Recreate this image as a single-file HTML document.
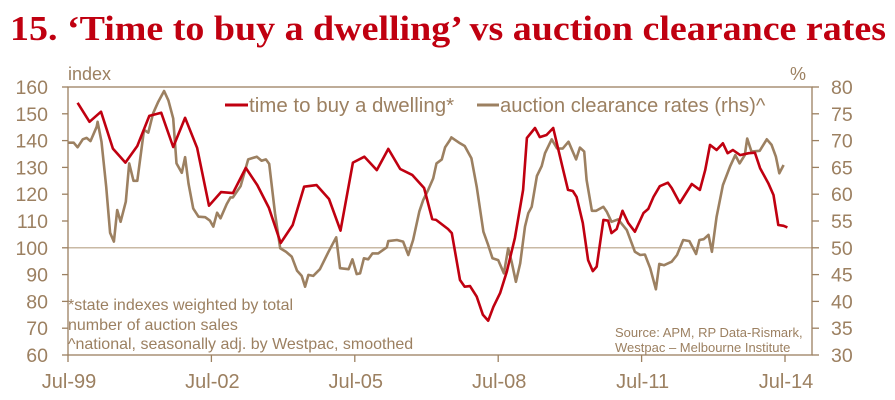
<!DOCTYPE html>
<html><head><meta charset="utf-8"><style>
html,body{margin:0;padding:0;background:#fff;}
svg{display:block;font-family:"Liberation Sans",sans-serif;}
</style></head><body>
<svg id="chart" width="895" height="400" viewBox="0 0 895 400">
<text x="10" y="40" font-family="Liberation Serif, serif" font-weight="bold" font-size="35" fill="#c00010" textLength="876" lengthAdjust="spacingAndGlyphs">15. ‘Time to buy a dwelling’ vs auction clearance rates</text>
<g id="axes"></g>
<g id="series"></g>
<g>
<line x1="225" y1="105" x2="248" y2="105" stroke="#c00010" stroke-width="3"/>
<text x="249" y="112" font-size="20.5" fill="#9c8061">time to buy a dwelling*</text>
<line x1="477" y1="105" x2="499" y2="105" stroke="#9c8061" stroke-width="3"/>
<text x="500" y="112" font-size="20.2" fill="#9c8061">auction clearance rates (rhs)^</text>
</g>
<g font-size="16" fill="#9c8061">
<text x="68" y="310">*state indexes weighted by total</text>
<text x="68" y="330">number of auction sales</text>
<text x="68" y="349">^national, seasonally adj. by Westpac, smoothed</text>
</g>
<g font-size="13" fill="#9c8061">
<text x="615" y="337">Source: APM, RP Data-Rismark,</text>
<text x="615" y="352">Westpac – Melbourne Institute</text>
</g>
</svg>
<script>
// dates as years since Jul-1999
const ttbT=[0.2,0.45,0.69,0.94,1.2,1.45,1.7,1.95,2.2,2.45,2.7,2.95,3.2,3.45,3.72,3.96,4.2,4.45,4.7,4.94,5.2,5.46,5.7,5.96,6.2,6.46,6.7,6.95,7.2,7.45,7.62,7.7,7.95,8.03,8.2,8.3,8.41,8.55,8.68,8.79,8.9,9.04,9.18,9.35,9.52,9.6,9.77,9.87,10.01,10.15,10.36,10.46,10.56,10.64,10.77,10.88,10.98,11.06,11.2,11.3,11.37,11.48,11.6,11.72,11.86,12.04,12.14,12.25,12.38,12.55,12.63,12.8,13.05,13.22,13.33,13.43,13.57,13.7,13.8,13.91,14.06,14.24,14.37,14.48,14.65,14.76,14.86,14.97,15.05];
const ttbV=[154.1,147,150.8,137,131.8,138,149.2,150.4,137.6,148.5,137.3,115.7,120.8,120.4,129.8,123.4,115,101.8,108.5,122.8,123.4,118.2,106.4,131.8,134,129,136.9,129.4,127.2,122.3,110.7,110.4,107,105.5,88,85.5,85.7,81.8,75,72.8,78,83.1,91.1,103.7,121.6,141,144.7,141.3,142.1,144.7,129,121.6,121.2,119,109.3,95.4,91.3,93,110.4,110.1,105.5,107,113.8,109.3,106,113,114.5,119,123,124.3,122.3,116.7,123.8,121.6,129,138.4,136.5,139,135.3,136.5,134.6,135.3,135.5,129.7,124.1,119.7,108.5,108.2,107.6];
const acrT=[0,0.12,0.2,0.31,0.39,0.47,0.6,0.62,0.7,0.8,0.88,0.96,1.03,1.1,1.21,1.28,1.37,1.45,1.59,1.68,1.78,1.89,2.01,2.1,2.2,2.27,2.38,2.45,2.52,2.62,2.73,2.87,2.97,3.04,3.12,3.19,3.32,3.4,3.45,3.61,3.77,3.95,4.05,4.14,4.21,4.33,4.44,4.56,4.68,4.79,4.89,4.96,5.03,5.13,5.27,5.45,5.61,5.69,5.87,5.95,6.04,6.11,6.19,6.28,6.37,6.49,6.67,6.7,6.88,7.01,7.12,7.22,7.35,7.43,7.54,7.64,7.71,7.82,7.89,7.99,8.02,8.2,8.3,8.44,8.55,8.69,8.79,8.88,9,9.12,9.21,9.28,9.37,9.46,9.56,9.63,9.7,9.81,9.91,9.98,10.12,10.23,10.35,10.47,10.63,10.71,10.8,10.85,10.96,11.05,11.2,11.27,11.37,11.51,11.69,11.86,11.97,12.07,12.18,12.3,12.37,12.47,12.63,12.74,12.87,13,13.14,13.21,13.3,13.4,13.47,13.57,13.7,13.85,13.96,14.05,14.16,14.21,14.3,14.47,14.62,14.72,14.81,14.88,14.97];
const acrV=[69.6,69.6,68.75,70.25,70.5,69.9,72.6,73.5,69.8,61.4,52.8,51.15,57.05,54.85,58.6,65.75,62.5,62.5,72,71.5,75.1,77.25,79.25,77.5,74.15,65.75,64,66.9,62,57.35,55.8,55.7,55.05,53.95,56.55,55.5,58.15,59.4,59.4,61.5,66.5,67,66.25,66.5,65.65,56.45,49.9,49.25,48.35,45.75,44.75,42.75,44.95,44.75,46,49.25,51.95,46.2,46,47.85,45.1,45.25,48.05,47.85,48.95,48.95,50.1,51.25,51.45,51.15,48.65,51.45,56.75,58.9,60.9,62.95,65.75,66.5,68.75,70.1,70.6,69.5,69,66.7,61.4,53,50.5,48.05,47.7,45.25,49.9,47.4,43.65,47.1,53.95,56.45,57.65,63.4,65.25,67.65,70.25,68.55,68.5,69.8,66.5,68.7,67.95,62.65,56.9,56.9,57.65,56.75,54.85,55.3,53.3,49.25,48.65,48.75,46.2,42.25,47,46.75,47.4,48.65,51.45,51.25,48.85,51.45,51.6,52.4,49.25,55.8,61.7,65.15,67.3,65.75,67.3,70.4,67.95,68.1,70.25,69.2,67,63.9,65.45];
const leftTicks=[60,70,80,90,100,110,120,130,140,150,160];
const rightTicks=[30,35,40,45,50,55,60,65,70,75,80];
const xTicks=['Jul-99','Jul-02','Jul-05','Jul-08','Jul-11','Jul-14'];
const xTickT=[0,3,6,9,12,15];
const NS='http://www.w3.org/2000/svg';
const L=68,R=812,T=87,B=355;
const xOf=t=>L+t*47.8;
const yL=v=>B-(v-60)*(B-T)/100;
const yR=v=>B-(v-30)*(B-T)/50;
const col='#9c8061';
function mk(tag,attrs,parent){const e=document.createElementNS(NS,tag);for(const k in attrs)e.setAttribute(k,attrs[k]);parent.appendChild(e);return e;}
const ax=document.getElementById('axes'),se=document.getElementById('series');
let g=mk('line',{x1:L,y1:yL(100),x2:R,y2:yL(100),stroke:'#c9b9a4','stroke-width':1.5},ax);


let f=mk('rect',{x:L,y:T,width:R-L,height:B-T,fill:'none',stroke:col,'stroke-width':1.3},ax);


leftTicks.forEach(v=>{mk('line',{x1:L-6,y1:yL(v),x2:L,y2:yL(v),stroke:col,'stroke-width':1.3},ax);
const t=mk('text',{x:48,y:yL(v)+7,'text-anchor':'end','font-size':19.5,fill:col},ax);t.textContent=v;

});
rightTicks.forEach(v=>{mk('line',{x1:R,y1:yR(v),x2:R+7,y2:yR(v),stroke:col,'stroke-width':1.3},ax);
const t=mk('text',{x:831,y:yR(v)+7,'font-size':19.5,fill:col},ax);t.textContent=v;

});
xTicks.forEach((s,i)=>{const x=xOf(xTickT[i]);mk('line',{x1:x,y1:B,x2:x,y2:B+7,stroke:col,'stroke-width':1.3},ax);
const t=mk('text',{x:x+1,y:388,'text-anchor':'middle','font-size':20,fill:col},ax);t.textContent=s;

});
let u=mk('text',{x:68,y:80,'font-size':18,fill:col},ax);u.textContent='index';


let u2=mk('text',{x:790,y:80,'font-size':18,fill:col},ax);u2.textContent='%';


const p1=mk('polyline',{points:acrT.map((d,i)=>xOf(d).toFixed(1)+','+yR(acrV[i]).toFixed(1)).join(' '),fill:'none',stroke:col,'stroke-width':2.6,'stroke-linejoin':'round'},se);


const p2=mk('polyline',{points:ttbT.map((d,i)=>xOf(d).toFixed(1)+','+yL(ttbV[i]).toFixed(1)).join(' '),fill:'none',stroke:'#c00010','stroke-width':2.6,'stroke-linejoin':'round'},se);


</script>
</body></html>
